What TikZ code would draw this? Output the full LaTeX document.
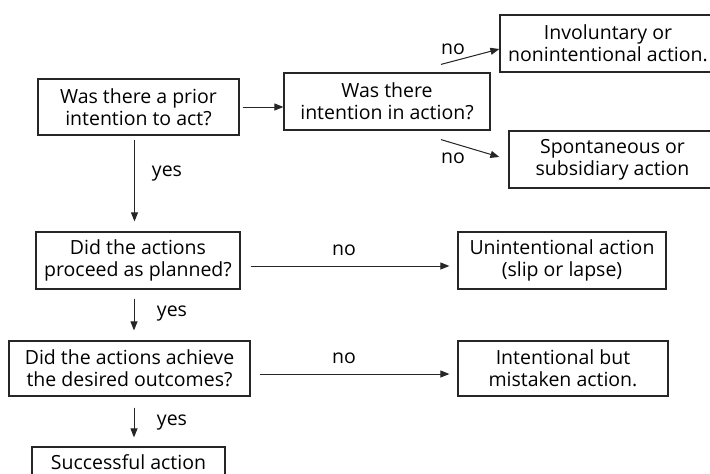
\documentclass[tikz,border=0pt]{standalone}
\usepackage{fontspec}
\setmainfont{Open Sans}
\usepackage{tikz}
\usetikzlibrary{calc,arrows.meta}
\tikzset{
	% Two node styles for the flow chart: question and outcome
	question node/.style={rectangle,draw=black!85,line width=1.2pt,align=center,inner sep=2pt,font=\fontsize{19.5}{22}\selectfont},
	outcome node/.style={question node},
	flow arrow/.style={-{Triangle[length=9pt,width=7pt]},line width=1pt,draw=black!85,fill=black!85}
}

\begin{document}
\begin{tikzpicture}[x=1pt,y=-1pt,font=\fontsize{19.5}{22}\selectfont]
	\useasboundingbox (0,0) rectangle (710,474);
	% macro for inputing the yes/no labels
	\newcommand{\answer}[3]{\node(#1)at(#2){#3};}
	
	\node(prior)[question node,minimum width=201,minimum height=56] at (138.5,107) {Was there a prior\\intention to act?};
	\node(inaction)[question node,minimum width=206,minimum height=57] at (387,101.5) {Was there\\intention in action?};
	\node(involuntary)[outcome node,minimum width=216,minimum height=57] at (608,43.5) {Involuntary or\\nonintentional action.};
	\node(spontaneous)[outcome node,minimum width=207,minimum height=57] at (612.5,159.5) {Spontaneous or\\subsidiary action};
	\node(planned)[question node,minimum width=204,minimum height=57] at (138,260.5) {Did the actions\\proceed as planned?};
	\node(slip)[outcome node,minimum width=208,minimum height=57] at (562,260.5) {Unintentional action\\(slip or lapse)};
	\node(achieve)[question node,minimum width=241,minimum height=55] at (129.5,368.5) {Did the actions achieve\\the desired outcomes?};
	\node(mistaken)[outcome node,minimum width=210,minimum height=55] at (563,368.5) {Intentional but\\mistaken action.};
	\node(success)[outcome node,minimum width=193,minimum height=30] at (128.5,462) {Successful action};
	
	% Specify the connectors
	\coordinate(up start) at ($(inaction.north)+(54,-8)$);
	\coordinate(down start) at ($(inaction.south)+(54,9)$);
	\draw[flow arrow] (prior.east) ++(3,0) -- (prior.east -| inaction.west);
	\draw[flow arrow] (up start) -- ($(involuntary.west)+(0,5.5)$);
	\draw[flow arrow] (down start) -- ($(spontaneous.west)+(-9,-2.5)$);
	\draw[flow arrow] ([shift={(-4,4)}]prior.south) -- ([shift={(-4,-10)}]prior.south |- planned.north);
	\draw[flow arrow] ([shift={(-4,9)}]planned.south) -- ([shift={(-4,-10)}]planned.south |- achieve.north);
	\draw[flow arrow] ([shift={(4.5,11)}]achieve.south) -- ([shift={(4.5,-9)}]achieve.south |- success.north);
	\draw[flow arrow] ([shift={(10,5.5)}]planned.east) -- ([shift={(-8,5.5)}]planned.east -| slip.west);
	\draw[flow arrow] ([shift={(9,5.5)}]achieve.east) -- ([shift={(-8,5.5)}]achieve.east -| mistaken.west);
	
	\answer{no up}{453,49}{no}
	\answer{no down}{453,158}{no}
	\answer{yes prior}{167,174}{yes}
	\answer{no planned}{344,250}{no}
	\answer{yes planned}{172,314}{yes}
	\answer{no achieve}{344,358}{no}
	\answer{yes achieve}{172,423}{yes}
\end{tikzpicture}
\end{document}
